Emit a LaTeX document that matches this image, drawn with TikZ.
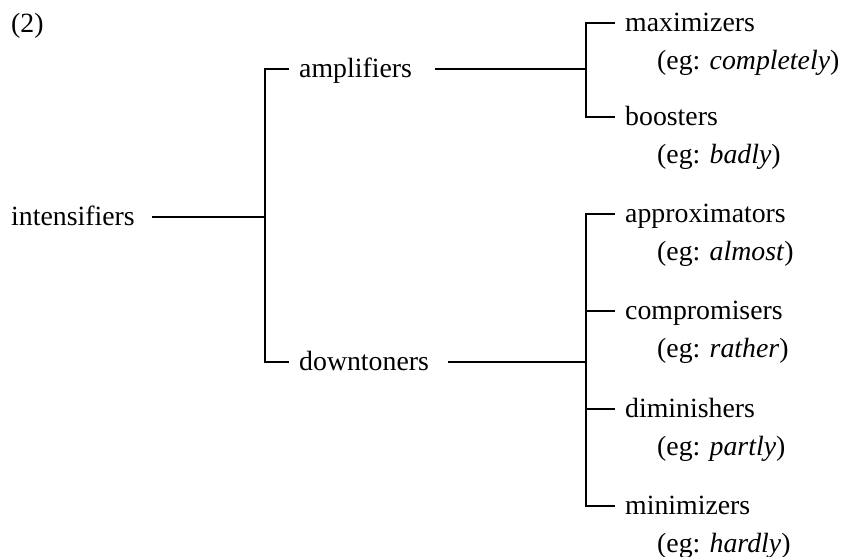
\documentclass[tikz,border=0pt]{standalone}
\usepackage{fontspec}
\setmainfont{Liberation Serif}
\begin{document}
\begin{tikzpicture}[x=1pt,y=-1pt,
  lbl/.style={anchor=base west,inner sep=0pt,font=\fontsize{27.8}{33}\selectfont},
  conn/.style={line width=2pt,line cap=butt}]
\useasboundingbox (0,0) rectangle (849,557);
% labels
\node[lbl] (num) at (11,32) {(2)};
\node[lbl] (int) at (11,225) {intensifiers};
\node[lbl] (amp) at (299,77) {amplifiers};
\node[lbl] (down) at (299,370) {downtoners};
\node[lbl] (max) at (625,31) {maximizers};
\node[lbl] (maxeg) at (657,69) {(eg: \textit{completely})};
\node[lbl] (boo) at (625,125) {boosters};
\node[lbl] (booeg) at (657,163) {(eg: \textit{badly})};
\node[lbl] (app) at (625,222) {approximators};
\node[lbl] (appeg) at (657,260) {(eg: \textit{almost})};
\node[lbl] (com) at (625,319) {compromisers};
\node[lbl] (comeg) at (657,357) {(eg: \textit{rather})};
\node[lbl] (dim) at (625,417) {diminishers};
\node[lbl] (dimeg) at (657,455) {(eg: \textit{partly})};
\node[lbl] (min) at (625,514) {minimizers};
\node[lbl] (mineg) at (657,552) {(eg: \textit{hardly})};
% junction coordinates
\coordinate (intS) at (152,217);
\coordinate (j1) at (265,217);
\coordinate (j1t) at (265,69);
\coordinate (j1b) at (265,362);
\coordinate (ampL) at (289,69);
\coordinate (downL) at (289,362);
\coordinate (ampS) at (435,69);
\coordinate (downS) at (448,362);
\coordinate (j2) at (586,69);
\coordinate (j2t) at (586,23);
\coordinate (j2b) at (586,117);
\coordinate (maxL) at (615,23);
\coordinate (booL) at (615,117);
\coordinate (j3) at (586,362);
\coordinate (j3t) at (586,214);
\coordinate (j3b) at (586,506);
\coordinate (appL) at (615,214);
\coordinate (comL) at (615,311);
\coordinate (dimL) at (615,409);
\coordinate (minL) at (615,506);
\coordinate (j3c) at (586,311);
\coordinate (j3d) at (586,409);
% connectors
\draw[conn] (intS) -- (j1);
\draw[conn] (ampL) -- (j1t) -- (j1b) -- (downL);
\draw[conn] (ampS) -- (j2);
\draw[conn] (maxL) -- (j2t) -- (j2b) -- (booL);
\draw[conn] (downS) -- (j3);
\draw[conn] (appL) -- (j3t) -- (j3b) -- (minL);
\draw[conn] (j3c) -- (comL);
\draw[conn] (j3d) -- (dimL);
\end{tikzpicture}
\end{document}
